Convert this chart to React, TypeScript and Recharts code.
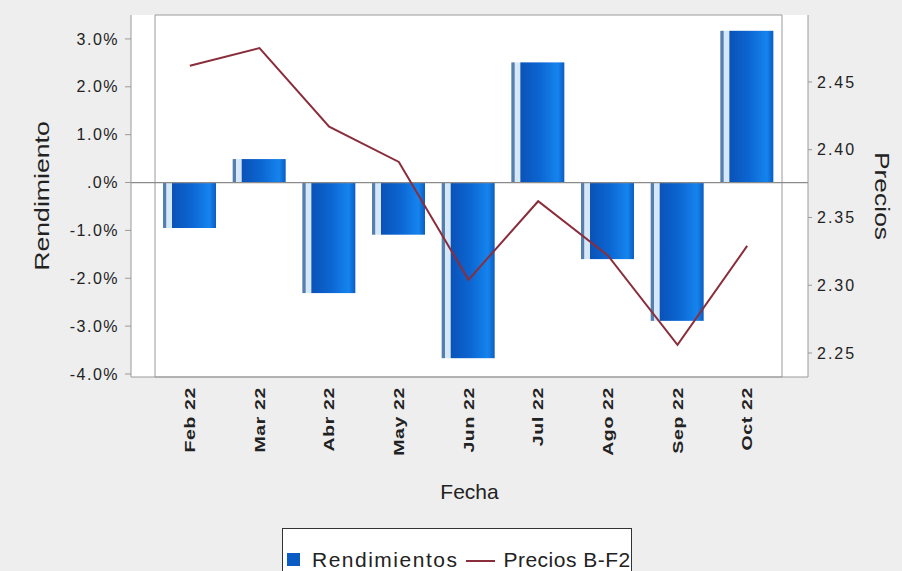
import React from 'react';
import { ComposedChart, Bar, Line, XAxis, YAxis, Legend, ReferenceLine, ReferenceArea, CartesianGrid } from 'recharts';

const categories = ['Feb 22', 'Mar 22', 'Abr 22', 'May 22', 'Jun 22', 'Jul 22', 'Ago 22', 'Sep 22', 'Oct 22'];
const rendimientos = [-0.95, 0.49, -2.31, -1.09, -3.67, 2.51, -1.6, -2.89, 3.17];
const precios = [2.462, 2.475, 2.417, 2.391, 2.304, 2.362, 2.322, 2.256, 2.329];
const leftTicks = [-4, -3, -2, -1, 0, 1, 2, 3];
const rightTicks = [2.25, 2.3, 2.35, 2.4, 2.45];

const data = categories.map((c, i) => ({ fecha: c, rend: rendimientos[i], precio: precios[i] }));

const FONT = '"Liberation Sans", Arial, sans-serif';
const LINE_COLOR = '#8b2e3c';
const BAR_COLOR = '#0a5cc4';

const fmtPct = (v: number) => (v === 0 ? '.0%' : `${v.toFixed(1)}%`);

const BarShape = (props: any) => {
  const { x, y, width, height } = props;
  const top = Math.min(y, y + height);
  const h = Math.abs(height);
  if (!h) return null;
  return (
    <g>
      <rect x={x} y={top} width={3.5} height={h} fill="#557fae" />
      <rect x={x + 3.5} y={top} width={5.5} height={h} fill="#d6e7f7" />
      <rect x={x + 9} y={top} width={width - 9} height={h} fill="url(#barGrad)" />
    </g>
  );
};

const XTick = (props: any) => {
  const { x, y, payload } = props;
  return (
    <g transform={`translate(${x},${y})`}>
      <text
        transform="rotate(-90) scale(1.3,1)"
        x={0}
        y={0}
        dy={5}
        textAnchor="end"
        fontFamily={FONT}
        fontSize={15}
        fontWeight="bold"
        letterSpacing={0.5}
        fill="#222"
      >
        {payload.value}
      </text>
    </g>
  );
};

const makeTitle = (text: string, angle: number, dxFromLeft: number | null, dyFromTop: number | null, stretch: number) =>
  (props: any) => {
    const vb = props.viewBox || {};
    const cx = dxFromLeft === null ? vb.x + vb.width / 2 : vb.x + dxFromLeft;
    const cy = dyFromTop === null ? vb.y + vb.height / 2 : vb.y + dyFromTop;
    return (
      <text
        transform={`translate(${cx},${cy}) rotate(${angle}) scale(${stretch},1)`}
        x={0}
        y={0}
        textAnchor="middle"
        dominantBaseline="central"
        fontFamily={FONT}
        fontSize={21}
        fill="#222"
      >
        {text}
      </text>
    );
  };

const renderLegend = () => (
  <div
    style={{
      boxSizing: 'border-box',
      width: 350,
      height: 60,
      border: '1px solid #333',
      background: '#ffffff',
      display: 'flex',
      alignItems: 'flex-start',
      paddingTop: 19,
      paddingLeft: 4,
      fontFamily: FONT,
      fontSize: 21,
      color: '#222',
      whiteSpace: 'nowrap',
    }}
  >
    <span style={{ display: 'inline-block', width: 13, height: 13, background: BAR_COLOR, marginTop: 5, marginRight: 12 }} />
    <span style={{ letterSpacing: 1.5, lineHeight: '24px' }}>Rendimientos</span>
    <span style={{ display: 'inline-block', width: 29, height: 2, background: LINE_COLOR, marginTop: 12, marginLeft: 8, marginRight: 8 }} />
    <span style={{ letterSpacing: 0.5, lineHeight: '24px' }}>Precios B-F2</span>
  </div>
);

export default function App() {
  return (
    <div style={{ position: 'absolute', left: 0, top: 0, width: 902, height: 571, background: '#eeeeee', overflow: 'hidden' }}>
      <ComposedChart
        width={902}
        height={571}
        data={data}
        margin={{ top: 15, right: 0, bottom: 0, left: 0 }}
        barCategoryGap={0}
      >
        <defs>
          <linearGradient id="barGrad" x1="0" y1="0" x2="1" y2="0">
            <stop offset="0%" stopColor="#0a52b8" />
            <stop offset="45%" stopColor="#0c66d2" />
            <stop offset="85%" stopColor="#1584ee" />
            <stop offset="100%" stopColor="#0b5cc2" />
          </linearGradient>
        </defs>
        <CartesianGrid fill="#ffffff" horizontal={false} vertical={false} yAxisId="left" />
        <XAxis
          dataKey="fecha"
          interval={0}
          padding={{ left: 24, right: 26 }}
          height={194}
          tickLine={false}
          tickSize={0}
          tickMargin={10}
          axisLine={{ stroke: '#9a9a9a' }}
          tick={<XTick />}
          label={{ content: makeTitle('Fecha', 0, null, 114, 1) }}
        />
        <YAxis
          yAxisId="left"
          orientation="left"
          width={131}
          domain={[-4.063, 3.5]}
          ticks={leftTicks}
          tickFormatter={fmtPct}
          allowDataOverflow
          tickSize={6}
          tickMargin={6}
          tickLine={{ stroke: '#9a9a9a' }}
          axisLine={{ stroke: '#9a9a9a' }}
          tick={{ fontFamily: FONT, fontSize: 16, fill: '#222', letterSpacing: 1.5 }}
          label={{ content: makeTitle('Rendimiento', -90, 42, null, 1.27) }}
        />
        <YAxis
          yAxisId="right"
          orientation="right"
          width={94}
          domain={[2.2323, 2.4994]}
          ticks={rightTicks}
          tickFormatter={(v: number) => v.toFixed(2)}
          allowDataOverflow
          tickSize={4}
          tickMargin={5}
          tickLine={{ stroke: '#9a9a9a' }}
          axisLine={{ stroke: '#9a9a9a' }}
          tick={{ fontFamily: FONT, fontSize: 16, fill: '#222', letterSpacing: 2, textAnchor: 'start' }}
          label={{ content: makeTitle('Precios', 90, 74, null, 1.26) }}
        />
        <ReferenceArea yAxisId="left" y1={-4.063} y2={3.5} fill="none" stroke="#9a9a9a" ifOverflow="visible" />
        <Bar yAxisId="left" dataKey="rend" name="Rendimientos" barSize={53} fill={BAR_COLOR} shape={<BarShape />} isAnimationActive={false} />
        <ReferenceLine yAxisId="left" y={0} stroke="#8a8a8a" strokeWidth={1.2} />
        <Line
          yAxisId="right"
          dataKey="precio"
          name="Precios B-F2"
          type="linear"
          stroke={LINE_COLOR}
          strokeWidth={2}
          dot={false}
          activeDot={false}
          isAnimationActive={false}
        />
        <Legend
          layout="horizontal"
          verticalAlign="middle"
          align="center"
          content={renderLegend}
          wrapperStyle={{ position: 'absolute', left: 282, top: 528, width: 350, height: 60 }}
        />
      </ComposedChart>
    </div>
  );
}
